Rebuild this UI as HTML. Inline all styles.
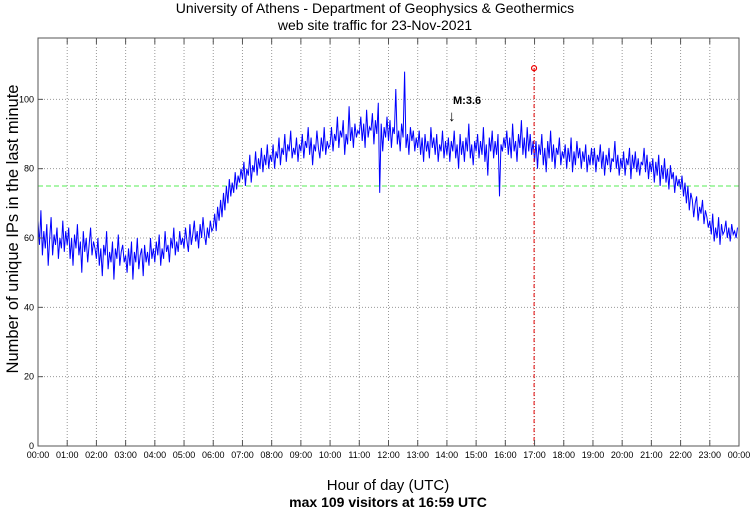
<!DOCTYPE html>
<html><head><meta charset="utf-8"><style>
body{margin:0;background:#fff;}
svg{display:block;font-family:"Liberation Sans",sans-serif;}
</style></head><body>
<svg id="chart" width="750" height="511" viewBox="0 0 750 511">
<text x="375" y="13" text-anchor="middle" font-size="14">University of Athens - Department of Geophysics &amp; Geothermics</text>
<text x="375" y="30" text-anchor="middle" font-size="14">web site traffic for 23-Nov-2021</text>
<g id="grid"></g>
<g id="series"></g>
<rect x="38" y="38" width="701" height="408" fill="none" stroke="#555" stroke-width="1"/>
<g id="ticks"></g>
<text transform="translate(18,229) rotate(-90)" text-anchor="middle" font-size="16.5">Number of unique IPs in the last minute</text>
<text x="388" y="490" text-anchor="middle" font-size="15">Hour of day (UTC)</text>
<text x="388" y="507" text-anchor="middle" font-size="14" font-weight="bold">max 109 visitors at 16:59 UTC</text>
<text x="453" y="104" font-size="11" font-weight="bold">M:3.6</text>
<text x="448" y="121" font-size="15" font-weight="bold">↓</text>
</svg>
<script>
const yTicks=[0,20,40,60,80,100];
const hourLabels=["00:00","01:00","02:00","03:00","04:00","05:00","06:00","07:00","08:00","09:00","10:00","11:00","12:00","13:00","14:00","15:00","16:00","17:00","18:00","19:00","20:00","21:00","22:00","23:00","00:00"];
const meanValue=75;
const maxValue=109;
const maxMinute=1019;
const stepMinutes=3;
const visitors=[
65,58,68,55,62,57,64,52,60,66,55,61,58,63,54,60,57,65,56,62,
58,63,54,60,52,61,57,64,55,59,50,62,56,60,53,58,63,55,59,57,
54,60,52,57,49,58,55,62,51,56,53,59,48,57,54,61,52,56,58,53,
55,50,57,52,59,48,56,53,60,51,55,57,49,58,53,56,52,60,54,57,
53,59,55,61,52,57,54,62,56,58,53,60,57,63,55,59,56,62,58,60,
57,63,59,56,64,58,61,65,59,62,57,64,60,66,61,58,63,60,65,62,
63,67,62,69,65,71,66,73,68,75,70,77,72,76,73,79,74,78,76,80,
77,82,75,80,78,84,76,81,79,85,78,83,80,86,79,84,81,87,80,84,
82,87,80,85,83,89,81,86,84,90,82,87,85,91,83,86,84,89,82,87,
85,90,83,88,86,92,84,89,81,87,85,91,86,83,89,85,92,84,88,86,
87,92,85,90,88,95,86,91,89,94,84,90,87,98,88,92,86,93,89,91,
90,95,88,93,86,97,89,92,91,96,87,94,90,99,73,93,85,92,89,95,
88,94,86,92,90,103,87,91,85,93,89,108,86,90,84,92,88,91,85,89,
86,91,84,89,82,90,85,88,83,92,86,89,84,90,82,87,85,91,83,88,
84,89,82,88,85,91,83,87,80,90,84,88,82,89,85,93,83,87,81,88,
85,90,83,88,84,92,82,87,78,89,85,91,83,88,84,90,72,87,85,89,
86,91,84,89,83,93,85,88,82,90,86,94,84,89,83,92,85,90,84,88,
82,88,80,87,84,90,81,86,79,88,83,91,82,87,80,86,84,89,81,85,
83,87,80,86,82,89,79,85,81,88,83,86,80,85,82,87,79,84,81,86,
81,86,79,84,82,87,80,85,78,84,81,86,79,83,82,88,80,84,78,83,
80,85,78,83,81,86,77,84,80,85,79,83,78,82,81,86,79,84,77,82,
79,83,76,82,78,84,75,81,77,83,76,80,74,81,77,79,73,78,75,77,
74,78,72,76,70,75,68,73,71,66,70,72,65,69,67,71,64,68,66,63,
65,61,67,59,63,60,66,58,64,61,62,65,60,63,59,64,61,62,60,63];
const NS="http://www.w3.org/2000/svg";
const L=38,R=739,T=38,B=446,YMAX=117.7;
const xs=m=>L+(R-L)*m/1440;
const ys=v=>B-(B-T)*v/YMAX;
function mk(tag,attrs,parent){const e=document.createElementNS(NS,tag);for(const k in attrs)e.setAttribute(k,attrs[k]);parent.appendChild(e);return e;}
const grid=document.getElementById('grid'),ticks=document.getElementById('ticks'),series=document.getElementById('series');
yTicks.forEach(v=>{
  const y=ys(v);
  if(v>0){const g=mk('line',{x1:L,x2:R,y1:y,y2:y,stroke:'#999','stroke-dasharray':'1,2','stroke-width':1},grid);
  
  }
  const t=mk('line',{x1:L,x2:L+5,y1:y,y2:y,stroke:'#555'},ticks);
  
  
  const lb=mk('text',{x:L-4,y:y+3,'text-anchor':'end','font-size':9},ticks);lb.textContent=v;
  
  
});
hourLabels.forEach((h,i)=>{
  const x=xs(i*60);
  if(i>0&&i<24){const g=mk('line',{x1:x,x2:x,y1:T,y2:B,stroke:'#999','stroke-dasharray':'1,2','stroke-width':1},grid);
  
  }
  const t1=mk('line',{x1:x,x2:x,y1:B,y2:B-6,stroke:'#555'},ticks);
  
  
  const t2=mk('line',{x1:x,x2:x,y1:T,y2:T+6,stroke:'#555'},ticks);
  
  
  const lb=mk('text',{x:x,y:B+12,'text-anchor':'middle','font-size':9},ticks);lb.textContent=h;
  
  
});
const mean=mk('line',{x1:L,x2:R,y1:ys(meanValue),y2:ys(meanValue),stroke:'#5e5','stroke-dasharray':'5,3','stroke-width':1},series);


const pts=visitors.map((v,i)=>xs(i*stepMinutes).toFixed(1)+','+ys(v).toFixed(1)).join(' ');
const pl=mk('polyline',{points:pts,fill:'none',stroke:'#00f','stroke-width':1},series);


const mx=xs(maxMinute);
const vl=mk('line',{x1:mx,x2:mx,y1:ys(maxValue),y2:B,stroke:'#e00','stroke-dasharray':'4,2,1,2','stroke-width':1},series);


const c=mk('circle',{cx:mx,cy:ys(maxValue),r:2.5,fill:'none',stroke:'#e00','stroke-width':1.2},series);


</script>
</body></html>
